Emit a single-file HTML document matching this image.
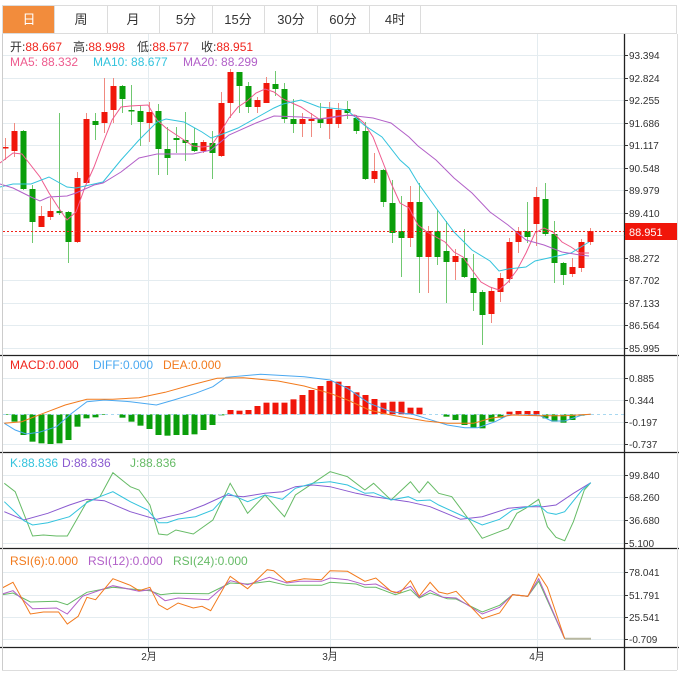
<!DOCTYPE html>
<html><head><meta charset="utf-8"><style>
html,body{margin:0;padding:0;background:#fff;}
body{width:679px;height:677px;overflow:hidden;position:relative;font-family:"Liberation Sans","Noto Sans CJK SC",sans-serif;}
svg{position:absolute;left:0;top:0;}
</style></head><body>
<svg id="s" width="679" height="677" xmlns="http://www.w3.org/2000/svg" font-family="Liberation Sans, Noto Sans CJK SC, sans-serif">
<rect x="0" y="0" width="679" height="677" fill="#fff"/>
<g id="grid" stroke="#e4ecf0" stroke-width="1"></g>
<rect x="2.5" y="5.5" width="674" height="28" fill="#fff" stroke="#dcdcdc"/>
<rect x="3" y="6" width="51" height="27" fill="#f28c3c"/>
<g stroke="#dcdcdc"><line x1="54.5" y1="6" x2="54.5" y2="33"/><line x1="107.5" y1="6" x2="107.5" y2="33"/><line x1="159.5" y1="6" x2="159.5" y2="33"/><line x1="212.5" y1="6" x2="212.5" y2="33"/><line x1="264.5" y1="6" x2="264.5" y2="33"/><line x1="317.5" y1="6" x2="317.5" y2="33"/><line x1="369.5" y1="6" x2="369.5" y2="33"/><line x1="420.5" y1="6" x2="420.5" y2="33"/></g>
<g font-size="13" text-anchor="middle" fill="#333">
<text x="29" y="24" fill="#fff">日</text><text x="81" y="24">周</text><text x="133" y="24">月</text><text x="186" y="24">5分</text><text x="238" y="24">15分</text><text x="291" y="24">30分</text><text x="343" y="24">60分</text><text x="395" y="24">4时</text>
</g>
<g font-size="12">
<text x="10" y="51" fill="#333">开:<tspan fill="#f0241c">88.667</tspan></text>
<text x="73" y="51" fill="#333">高:<tspan fill="#f0241c">88.998</tspan></text>
<text x="137" y="51" fill="#333">低:<tspan fill="#f0241c">88.577</tspan></text>
<text x="201" y="51" fill="#333">收:<tspan fill="#f0241c">88.951</tspan></text>
<text x="10" y="66" fill="#ee5b8e">MA5: 88.332</text>
<text x="93" y="66" fill="#33c3dd">MA10: 88.677</text>
<text x="183" y="66" fill="#b260c8">MA20: 88.299</text>
<text x="10" y="369" fill="#f0241c">MACD:0.000</text>
<text x="93" y="369" fill="#4aa8f0">DIFF:0.000</text>
<text x="163" y="369" fill="#f27a1c">DEA:0.000</text>
<text x="10" y="467" fill="#33c3dd">K:88.836</text>
<text x="62" y="467" fill="#8a5ad0">D:88.836</text>
<text x="130" y="467" fill="#66bb66">J:88.836</text>
<text x="10" y="565" fill="#f27a1c">RSI(6):0.000</text>
<text x="88" y="565" fill="#b260c8">RSI(12):0.000</text>
<text x="173" y="565" fill="#66bb66">RSI(24):0.000</text>
</g>
<g id="plot"></g>
<g stroke="#222" stroke-width="1.3">
<line x1="624.5" y1="34" x2="624.5" y2="670"/>
<line x1="0" y1="355.5" x2="679" y2="355.5"/>
<line x1="0" y1="452.5" x2="679" y2="452.5"/>
<line x1="0" y1="548.5" x2="679" y2="548.5"/>
<line x1="0" y1="647.5" x2="679" y2="647.5"/>
</g>
<line x1="2.5" y1="34" x2="2.5" y2="670" stroke="#ccc"/>
<line x1="2" y1="670.5" x2="677" y2="670.5" stroke="#ddd"/>
<line x1="677.5" y1="34" x2="677.5" y2="670" stroke="#ddd"/>
<g id="ticks" stroke="#333"></g>
<g font-size="10" fill="#333">
<text x="629" y="59">93.394</text><text x="629" y="82">92.824</text><text x="629" y="104">92.255</text><text x="629" y="127">91.686</text><text x="629" y="149">91.117</text><text x="629" y="172">90.548</text><text x="629" y="194">89.979</text><text x="629" y="217">89.410</text><text x="629" y="262">88.272</text><text x="629" y="284">87.702</text><text x="629" y="307">87.133</text><text x="629" y="329">86.564</text><text x="629" y="352">85.995</text>
<text x="629" y="382">0.885</text><text x="629" y="404">0.344</text><text x="629" y="426">-0.197</text><text x="629" y="448">-0.737</text>
<text x="629" y="479">99.840</text><text x="629" y="501">68.260</text><text x="629" y="524">36.680</text><text x="629" y="547">5.100</text>
<text x="629" y="576">78.041</text><text x="629" y="599">51.791</text><text x="629" y="621">25.541</text><text x="629" y="643">-0.709</text>
<text x="149" y="660" text-anchor="middle">2月</text><text x="330" y="660" text-anchor="middle">3月</text><text x="537" y="660" text-anchor="middle">4月</text>
</g>
<line x1="3" y1="231.5" x2="624" y2="231.5" stroke="#f0241c" stroke-dasharray="2,2"/>
<rect x="625" y="223" width="52" height="17" fill="#f0160a"/>
<text x="629" y="236" font-size="11" fill="#fff">88.951</text>
</svg>
<script>
var NS="http://www.w3.org/2000/svg";
function el(p,t,a){var e=document.createElementNS(NS,t);for(var k in a)e.setAttribute(k,a[k]);p.appendChild(e);return e;}
var grid=document.getElementById('grid'),plot=document.getElementById('plot'),ticks=document.getElementById('ticks');
var hy=[55,78,100,123,145,168,190,213,235,258,280,303,325,348,378,400,422,444,475,497,520,543,572,595,617,639];
hy.forEach(function(y){el(grid,'line',{x1:3,y1:y+.5,x2:624,y2:y+.5});el(ticks,'line',{x1:624,y1:y+.5,x2:628,y2:y+.5});});
[148,330,537].forEach(function(x){el(grid,'line',{x1:x+.5,y1:34,x2:x+.5,y2:648});el(ticks,'line',{x1:x+.5,y1:648,x2:x+.5,y2:652});});
var R='#f0160a',G='#0a9e0a',RW='#f08a80',GW='#70c870';
var C=[[147,148,138,160,1],[131,151,123,157,1],[131,189,130,190,0],[189,222,185,243,0],[216,227,206,227,1],[211,217,198,220,1],[211,213,113,215,0],[212,242,211,263,0],[178,242,172,243,1],[119,183,113,183,1],[121,125,113,140,0],[112,123,78,133,1],[86,110,78,123,1],[86,99,85,113,0],[110,111,85,125,0],[111,122,105,146,0],[112,123,102,142,1],[111,149,104,175,0],[149,158,127,175,0],[138,140,127,153,0],[140,143,112,161,0],[143,151,128,152,0],[142,151,140,153,1],[143,153,131,179,0],[103,156,92,157,1],[72,103,69,118,1],[72,86,72,113,0],[86,107,82,113,0],[100,107,97,113,1],[83,103,77,103,1],[84,89,71,96,0],[89,119,83,123,0],[119,124,99,133,0],[119,124,113,137,1],[119,121,113,137,1],[119,123,103,128,0],[109,124,102,139,1],[110,124,103,128,1],[109,113,101,119,0],[118,131,115,134,0],[131,179,122,180,0],[171,179,153,183,1],[170,202,169,207,0],[203,233,180,243,0],[231,238,196,277,0],[202,238,186,247,1],[202,257,183,293,0],[231,257,226,293,1],[231,257,210,265,0],[251,262,221,303,0],[256,262,249,280,1],[258,277,229,278,0],[278,293,254,311,0],[292,315,290,345,0],[291,314,287,323,1],[278,292,273,302,1],[242,279,238,283,1],[231,242,227,253,1],[231,237,202,243,0],[197,224,187,246,1],[199,234,183,236,0],[234,263,221,283,0],[263,275,262,285,0],[267,274,258,277,1],[242,268,239,272,1],[231,242,228,245,1]];
C.forEach(function(c,i){var x=5+9*i;el(plot,'line',{x1:x+.5,y1:c[2],x2:x+.5,y2:c[3],stroke:c[4]?RW:GW});el(plot,'rect',{x:x-2.5,y:c[0],width:6,height:Math.max(1.5,c[1]-c[0]),fill:c[4]?R:G});});
function pl(pts,col,fx,fy){var s=pts.map(function(p){return (fx(p[0])).toFixed(1)+','+(fy(p[1])).toFixed(1)}).join(' ');el(plot,'polyline',{points:s,fill:'none',stroke:col,'stroke-width':1});}
var id=function(v){return v};
pl([[0,163],[13,153],[22,154],[40,177],[49,193],[58,207],[67,220],[76,212],[85,187],[94,167],[103,143],[112,120],[121,107],[130,106],[148,105],[157,120],[166,128],[184,140],[193,146],[202,147],[211,146],[220,133],[229,118],[238,107],[247,101],[256,93],[265,89],[274,92],[283,99],[292,103],[301,107],[310,113],[319,119],[338,116],[355,115],[364,123],[373,137],[382,160],[391,183],[400,203],[409,208],[418,225],[427,232],[436,237],[445,242],[454,252],[463,257],[472,270],[481,282],[490,287],[499,290],[508,282],[517,270],[526,253],[535,233],[544,228],[553,232],[562,242],[571,247],[580,253],[589,253]],'#ee5b8e',id,id);
pl([[0,187],[13,184],[31,184],[49,177],[67,187],[76,188],[94,184],[103,182],[121,160],[139,140],[157,122],[166,119],[184,122],[202,132],[211,138],[220,135],[238,128],[256,118],[274,108],[283,104],[301,100],[319,107],[340,109],[347,110],[364,125],[382,137],[400,160],[409,168],[418,183],[436,208],[454,232],[472,250],[490,261],[499,271],[508,269],[526,267],[535,261],[553,257],[571,253],[589,242]],'#33c3dd',id,id);
pl([[0,184],[13,188],[31,197],[40,201],[49,197],[67,196],[76,193],[94,185],[103,183],[121,172],[139,158],[157,154],[193,154],[211,150],[229,135],[256,123],[274,116],[301,117],[319,119],[330,118],[347,115],[373,118],[391,123],[409,137],[418,146],[436,160],[454,178],[472,193],[490,212],[508,225],[526,240],[544,245],[562,252],[580,255],[589,256]],'#b260c8',id,id);
var M=[180,200,240,260,265,267,265,255,215,190,187,180,178,188,200,212,222,240,242,240,240,238,225,210,181,165,167,165,153,143,143,143,133,120,105,93,78,80,93,112,120,132,143,140,140,158,158,178,178,185,195,210,218,220,200,188,170,168,168,168,190,200,203,195,182,178];
M.forEach(function(v,i){var x=5+9*i,y0=355+178/3,y=355+v/3;if(Math.abs(y-y0)<.5)return;el(plot,'rect',{x:x-2.5,y:Math.min(y,y0),width:6,height:Math.abs(y-y0),fill:v<178?R:G});});
el(plot,'line',{x1:3,y1:414.5,x2:624,y2:414.5,stroke:'#a8d8f0','stroke-dasharray':'3,3'});
var fx=function(v){return v/2.302},f4=function(v){return 355+v/3},f5=function(v){return 450+v/3},f6=function(v){return 548+v/3};
pl([[10,205],[35,225],[60,237],[90,232],[130,215],[160,180],[200,140],[240,135],[300,140],[360,150],[400,135],[450,115],[490,95],[520,67],[600,58],[700,65],[760,75],[800,100],[850,145],[900,170],[950,178],[980,190],[1030,210],[1070,218],[1100,218],[1140,200],[1170,180],[1240,180],[1270,198],[1300,198],[1340,180],[1360,178]],'#4aa8f0',fx,f4);
pl([[10,205],[50,200],[100,175],[150,150],[200,133],[260,133],[320,128],[380,112],[440,90],[500,70],[560,68],[640,78],[700,93],[760,115],[800,135],[850,165],[900,180],[980,198],[1030,205],[1090,205],[1130,190],[1180,180],[1240,182],[1300,182],[1360,178]],'#f27a1c',fx,f4);
pl([[10,100],[35,125],[75,258],[100,255],[130,258],[155,258],[200,155],[230,140],[260,68],[300,110],[320,120],[345,165],[365,252],[385,255],[405,240],[445,252],[490,210],[530,100],[570,190],[610,135],[655,200],[680,135],[720,100],[760,65],[800,80],[840,120],[860,100],[900,150],[945,95],[965,128],[985,95],[1010,130],[1040,140],[1080,210],[1110,265],[1140,250],[1170,235],[1190,190],[1210,175],[1240,148],[1260,230],[1280,262],[1300,272],[1320,215],[1345,120],[1360,98]],'#66bb66',fx,f5);
pl([[10,185],[55,210],[110,190],[160,165],[200,148],[240,152],[300,185],[360,208],[420,190],[470,165],[520,135],[560,140],[610,130],[650,125],[680,110],[720,105],[760,110],[820,130],[860,140],[940,155],[990,170],[1060,208],[1110,200],[1170,175],[1210,170],[1250,170],[1280,165],[1320,130],[1360,98]],'#8a5ad0',fx,f5);
pl([[10,155],[30,180],[55,212],[75,225],[110,218],[160,200],[200,158],[230,140],[260,125],[300,155],[340,180],[365,218],[385,218],[410,207],[450,200],[490,180],[525,130],[570,155],[610,135],[650,148],[680,115],[720,100],[760,95],[800,105],[840,130],[860,128],[900,150],[940,140],[960,152],[990,150],[1010,165],[1060,195],[1110,225],[1150,208],[1180,180],[1210,172],[1240,165],[1260,188],[1280,193],[1300,185],[1340,120],[1360,98]],'#33c3dd',fx,f5);
pl([[5,140],[30,135],[70,162],[130,160],[155,170],[200,133],[260,118],[345,128],[370,140],[400,136],[480,137],[530,105],[570,108],[620,100],[660,112],[740,112],[760,103],[820,108],[840,118],[865,118],[910,140],[945,125],[965,150],[990,135],[1030,152],[1050,153],[1110,192],[1150,172],[1180,140],[1215,145],[1240,100],[1300,272]],'#66bb66',fx,f6);
pl([[5,138],[30,128],[75,182],[130,180],[155,198],[190,145],[260,113],[320,130],[345,125],[380,158],[410,150],[480,155],[530,98],[570,110],[620,88],[660,105],[690,100],[740,100],[760,90],[800,95],[840,110],[865,108],[910,135],[945,115],[965,148],[990,127],[1020,148],[1050,150],[1110,198],[1150,178],[1180,140],[1215,145],[1240,92],[1300,272]],'#b260c8',fx,f6);
pl([[5,120],[30,103],[70,198],[100,192],[135,192],[155,228],[180,205],[200,148],[220,155],[260,92],[300,112],[320,128],[345,118],[365,170],[385,185],[410,165],[445,180],[465,175],[485,188],[530,85],[570,122],[615,65],[630,68],[660,102],[700,92],[740,95],[760,68],[800,70],[840,100],[865,90],[900,130],[920,135],[945,98],[965,145],[990,103],[1010,132],[1030,138],[1050,130],[1110,212],[1150,195],[1180,140],[1215,145],[1240,78],[1260,118],[1300,272]],'#f27a1c',fx,f6);
el(plot,'line',{x1:565,y1:638.7,x2:591,y2:638.7,stroke:'#b8b8a0','stroke-width':2});
</script>
</body></html>
